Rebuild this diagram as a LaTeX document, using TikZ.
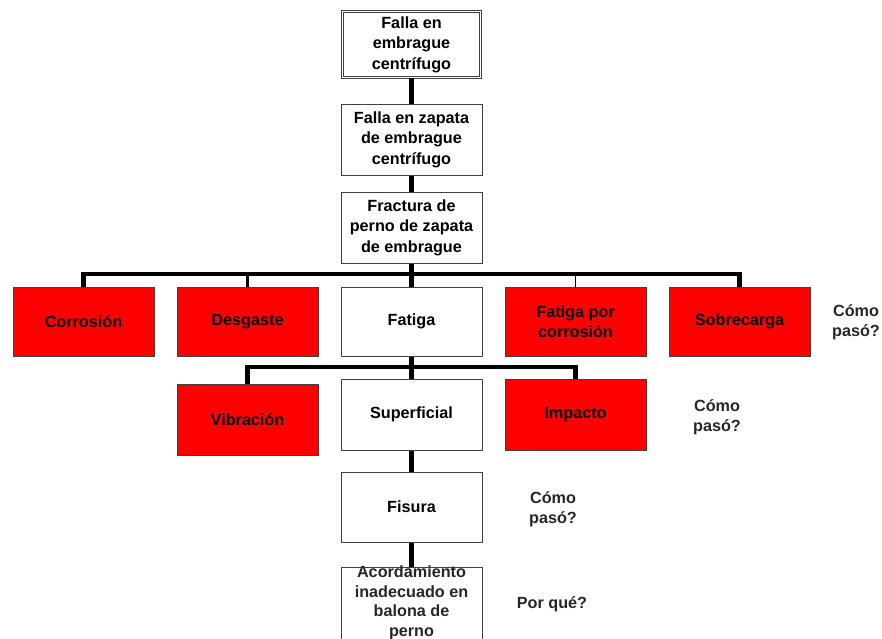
\documentclass[tikz,border=0pt]{standalone}
\usepackage{fontspec}
\setmainfont{Liberation Sans}
\begin{document}
\begin{tikzpicture}[x=1pt,y=-1pt,
  box/.style={draw=black!75, line width=1pt, minimum width=141pt, minimum height=69pt,
    inner sep=0pt, align=center, font=\bfseries\fontsize{16.2}{20.5}\selectfont, text=black},
  redbox/.style={box, fill=red},
  topbox/.style={box, double=white, double distance=1.6pt, line width=0.8pt, minimum width=138pt, minimum height=66pt},
  txt/.style={align=center, inner sep=0pt, font=\bfseries\fontsize{16.2}{20.5}\selectfont, text=black!85},
  conn/.style={line width=4.8pt, line join=miter},
  thinconn/.style={line width=1.2pt}]
\useasboundingbox (0,0) rectangle (882,638);
\begin{scope}
\clip (0,0) rectangle (882,638);
% top chain
\node[topbox] (top) at (411.5,44.5) {Falla en\\embrague\\centrífugo};
\node[box, minimum height=71pt] (zap) at (411.5,139.5) {Falla en zapata\\de embrague\\centrífugo};
\node[box, minimum height=71pt] (frac) at (411.5,227.5) {Fractura de\\perno de zapata\\de embrague};
% row 1
\node[redbox] (corr) at (83.5,321.5) {Corrosión};
\node[redbox] (desg) at (247.5,321.5) {Desgaste};
\node[box] (fat) at (411.5,321.5) {Fatiga};
\node[redbox] (fpc) at (575.5,321.5) {Fatiga por\\corrosión};
\node[redbox] (sob) at (739.5,321.5) {Sobrecarga};
% row 2
\node[redbox, minimum height=71pt] (vib) at (247.5,419.5) {Vibración};
\node[box, minimum height=71pt] (sup) at (411.5,414.5) {Superficial};
\node[redbox, minimum height=71pt] (imp) at (575.5,414.5) {Impacto};
% chain below
\node[box, minimum height=70pt] (fis) at (411.5,507) {Fisura};
\node[box, minimum height=72pt] (acord) at (411.5,603) {};
\node[txt, font=\bfseries\fontsize{16.2}{19.5}\selectfont] (acordt) at (411.5,603) {Acordamiento\\inadecuado en\\balona de\\perno};
% labels
\node[txt] (q1) at (856,322) {Cómo\\pasó?};
\node[txt] (q2) at (717,417) {Cómo\\pasó?};
\node[txt] (q3) at (553,509) {Cómo\\pasó?};
\node[txt] (q4) at (552,604) {Por qué?};
% connectors
\coordinate (bus) at (411.5,274);
\coordinate (bus2) at (411.5,367);
\draw[conn] (top.south) -- (zap.north);
\draw[conn] (zap.south) -- (frac.north);
\draw[conn] (frac.south) -- (fat.north);
\draw[conn] (corr.north) -- (corr.north |- bus) -- (sob.north |- bus) -- (sob.north);
\draw[line width=3.8pt] (desg.north) -- (desg.north |- bus);
\draw[thinconn] (fpc.north) -- (fpc.north |- bus);
\draw[conn] (fat.south) -- (sup.north);
\draw[conn] (vib.north) -- (vib.north |- bus2) -- (imp.north |- bus2) -- (imp.north);
\draw[conn] (sup.south) -- (fis.north);
\draw[conn] (fis.south) -- (acord.north);
\end{scope}
\end{tikzpicture}
\end{document}
